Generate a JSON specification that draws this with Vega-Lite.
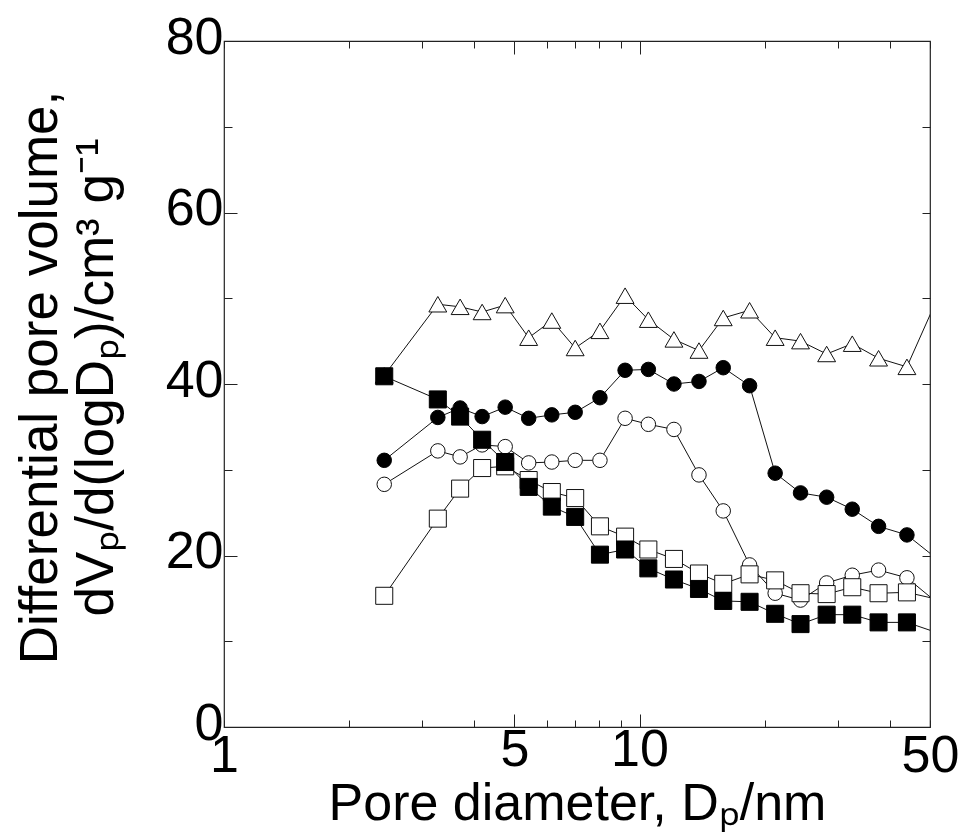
{
  "$schema": "https://vega.github.io/schema/vega-lite/v6.json",
  "autosize": {"type": "none"},
  "padding": {"left": 224, "top": 41, "right": 32, "bottom": 105},
  "width": 706,
  "height": 686,
  "background": "white",
  "config": {
    "view": {"stroke": "#222222", "strokeWidth": 1.2},
    "font": "Liberation Sans",
    "axis": {
      "domain": false,
      "grid": false,
      "tickColor": "#222222",
      "tickWidth": 1,
      "labelFont": "Liberation Sans",
      "labelFontSize": 52,
      "labelColor": "black",
      "labelFlush": false,
      "labelOverlap": false,
      "titleFont": "Liberation Sans",
      "titleFontWeight": "normal",
      "titleColor": "black"
    }
  },
  "datasets": {
    "pores": [
      {"series": "E", "d": 2.43, "v": 41.0}, {"series": "E", "d": 3.27, "v": 49.3}, {"series": "E", "d": 3.70, "v": 49.0}, {"series": "E", "d": 4.18, "v": 48.4}, {"series": "E", "d": 4.75, "v": 49.2}, {"series": "E", "d": 5.41, "v": 45.4}, {"series": "E", "d": 6.15, "v": 47.4}, {"series": "E", "d": 7.00, "v": 44.2}, {"series": "E", "d": 8.03, "v": 46.2}, {"series": "E", "d": 9.23, "v": 50.3}, {"series": "E", "d": 10.5, "v": 47.5}, {"series": "E", "d": 12.1, "v": 45.2}, {"series": "E", "d": 13.9, "v": 43.9}, {"series": "E", "d": 15.9, "v": 47.7}, {"series": "E", "d": 18.4, "v": 48.6}, {"series": "E", "d": 21.2, "v": 45.4}, {"series": "E", "d": 24.4, "v": 45.0}, {"series": "E", "d": 28.2, "v": 43.5}, {"series": "E", "d": 32.5, "v": 44.7}, {"series": "E", "d": 37.6, "v": 43.0}, {"series": "E", "d": 44.0, "v": 42.0}, {"series": "E", "d": 52.0, "v": 49.9},
      {"series": "C", "d": 2.43, "v": 31.1}, {"series": "C", "d": 3.27, "v": 36.1}, {"series": "C", "d": 3.70, "v": 37.2}, {"series": "C", "d": 4.18, "v": 36.2}, {"series": "C", "d": 4.75, "v": 37.3}, {"series": "C", "d": 5.41, "v": 36.0}, {"series": "C", "d": 6.15, "v": 36.4}, {"series": "C", "d": 7.00, "v": 36.7}, {"series": "C", "d": 8.03, "v": 38.4}, {"series": "C", "d": 9.23, "v": 41.6}, {"series": "C", "d": 10.5, "v": 41.7}, {"series": "C", "d": 12.1, "v": 40.0}, {"series": "C", "d": 13.9, "v": 40.3}, {"series": "C", "d": 15.9, "v": 41.9}, {"series": "C", "d": 18.4, "v": 39.8}, {"series": "C", "d": 21.2, "v": 29.6}, {"series": "C", "d": 24.4, "v": 27.3}, {"series": "C", "d": 28.2, "v": 26.8}, {"series": "C", "d": 32.5, "v": 25.4}, {"series": "C", "d": 37.6, "v": 23.4}, {"series": "C", "d": 44.0, "v": 22.4}, {"series": "C", "d": 52.0, "v": 19.6},
      {"series": "D", "d": 2.43, "v": 28.3}, {"series": "D", "d": 3.27, "v": 32.2}, {"series": "D", "d": 3.70, "v": 31.5}, {"series": "D", "d": 4.18, "v": 32.9}, {"series": "D", "d": 4.75, "v": 32.7}, {"series": "D", "d": 5.41, "v": 30.8}, {"series": "D", "d": 6.15, "v": 30.9}, {"series": "D", "d": 7.00, "v": 31.1}, {"series": "D", "d": 8.03, "v": 31.1}, {"series": "D", "d": 9.23, "v": 36.0}, {"series": "D", "d": 10.5, "v": 35.3}, {"series": "D", "d": 12.1, "v": 34.7}, {"series": "D", "d": 13.9, "v": 29.4}, {"series": "D", "d": 15.9, "v": 25.2}, {"series": "D", "d": 18.4, "v": 18.9}, {"series": "D", "d": 21.2, "v": 15.6}, {"series": "D", "d": 24.4, "v": 14.8}, {"series": "D", "d": 28.2, "v": 16.8}, {"series": "D", "d": 32.5, "v": 17.7}, {"series": "D", "d": 37.6, "v": 18.3}, {"series": "D", "d": 44.0, "v": 17.4}, {"series": "D", "d": 52.0, "v": 14.5},
      {"series": "A", "d": 2.43, "v": 40.9}, {"series": "A", "d": 3.27, "v": 38.2}, {"series": "A", "d": 3.70, "v": 36.2}, {"series": "A", "d": 4.18, "v": 33.5}, {"series": "A", "d": 4.75, "v": 30.9}, {"series": "A", "d": 5.41, "v": 28.0}, {"series": "A", "d": 6.15, "v": 25.7}, {"series": "A", "d": 7.00, "v": 24.5}, {"series": "A", "d": 8.03, "v": 20.1}, {"series": "A", "d": 9.23, "v": 20.7}, {"series": "A", "d": 10.5, "v": 18.5}, {"series": "A", "d": 12.1, "v": 17.2}, {"series": "A", "d": 13.9, "v": 16.1}, {"series": "A", "d": 15.9, "v": 14.7}, {"series": "A", "d": 18.4, "v": 14.6}, {"series": "A", "d": 21.2, "v": 13.2}, {"series": "A", "d": 24.4, "v": 12.0}, {"series": "A", "d": 28.2, "v": 13.1}, {"series": "A", "d": 32.5, "v": 13.1}, {"series": "A", "d": 37.6, "v": 12.2}, {"series": "A", "d": 44.0, "v": 12.2}, {"series": "A", "d": 52.0, "v": 11.0},
      {"series": "B", "d": 2.43, "v": 15.3}, {"series": "B", "d": 3.27, "v": 24.3}, {"series": "B", "d": 3.70, "v": 27.8}, {"series": "B", "d": 4.18, "v": 30.2}, {"series": "B", "d": 4.75, "v": 30.4}, {"series": "B", "d": 5.41, "v": 28.8}, {"series": "B", "d": 6.15, "v": 27.4}, {"series": "B", "d": 7.00, "v": 26.7}, {"series": "B", "d": 8.03, "v": 23.4}, {"series": "B", "d": 9.23, "v": 22.2}, {"series": "B", "d": 10.5, "v": 20.7}, {"series": "B", "d": 12.1, "v": 19.6}, {"series": "B", "d": 13.9, "v": 17.9}, {"series": "B", "d": 15.9, "v": 16.7}, {"series": "B", "d": 18.4, "v": 17.8}, {"series": "B", "d": 21.2, "v": 17.1}, {"series": "B", "d": 24.4, "v": 15.6}, {"series": "B", "d": 28.2, "v": 15.5}, {"series": "B", "d": 32.5, "v": 16.3}, {"series": "B", "d": 37.6, "v": 15.6}, {"series": "B", "d": 44.0, "v": 15.7}, {"series": "B", "d": 52.0, "v": 14.9}
    ]
  },
  "data": {"name": "pores"},
  "resolve": {"axis": {"x": "independent", "y": "independent"}},
  "layer": [
    {
      "mark": {"type": "line", "color": "#111111", "strokeWidth": 1, "clip": true},
      "encoding": {
        "x": {
          "field": "d", "type": "quantitative",
          "scale": {"type": "log", "domain": [1, 50], "nice": false},
          "axis": {
            "orient": "bottom",
            "values": [1, 2, 3, 4, 5, 6, 7, 8, 9, 10, 20, 30, 40, 50],
            "tickSize": {"condition": {"test": "datum.value == 5 || datum.value == 10", "value": -13}, "value": -7},
            "labelPadding": 10,
            "labelExpr": "(datum.value == 1 || datum.value == 5 || datum.value == 10 || datum.value == 50) ? format(datum.value, 'd') : ''",
            "title": "Pore diameter, Dₚ/nm",
            "titleFontSize": 52,
            "titleX": 353,
            "titleY": 92,
            "titleBaseline": "alphabetic",
            "titleAlign": "center"
          }
        },
        "y": {
          "field": "v", "type": "quantitative",
          "scale": {"domain": [0, 80], "nice": false},
          "axis": {
            "orient": "left",
            "values": [0, 10, 20, 30, 40, 50, 60, 70, 80],
            "tickSize": {"condition": {"test": "datum.value % 20 == 0", "value": -13}, "value": -8},
            "labelPadding": 14,
            "labelOffset": -4,
            "labelExpr": "datum.value % 20 == 0 ? format(datum.value, 'd') : ''",
            "title": ["Differential pore volume,", "dVₚ/d(logDₚ)/cm³ g⁻¹"],
            "titleFontSize": 53,
            "titleLineHeight": 56,
            "titleAngle": -90,
            "titleX": -184,
            "titleY": 336,
            "titleBaseline": "middle",
            "titleAlign": "center"
          }
        },
        "detail": {"field": "series"}
      }
    },
    {
      "transform": [{"filter": "datum.series == 'E' && datum.d <= 50"}],
      "mark": {"type": "point", "shape": "triangle-up", "size": 320, "filled": true, "fill": "white", "stroke": "#111111", "strokeWidth": 1, "opacity": 1},
      "encoding": {
        "x": {"field": "d", "type": "quantitative", "scale": {"type": "log", "domain": [1, 50], "nice": false},
          "axis": {"orient": "top", "values": [1, 2, 3, 4, 5, 6, 7, 8, 9, 10, 20, 30, 40, 50], "labels": false, "title": null,
            "tickSize": {"condition": {"test": "datum.value == 5 || datum.value == 10", "value": -13}, "value": -7}}},
        "y": {"field": "v", "type": "quantitative", "scale": {"domain": [0, 80], "nice": false},
          "axis": {"orient": "right", "values": [10, 20, 30, 40, 50, 60, 70], "labels": false, "title": null, "tickSize": -8}}
      }
    },
    {
      "transform": [{"filter": "datum.series == 'C' && datum.d <= 50"}],
      "mark": {"type": "point", "shape": "circle", "size": 210, "filled": true, "fill": "black", "stroke": "black", "strokeWidth": 1, "opacity": 1},
      "encoding": {
        "x": {"field": "d", "type": "quantitative", "axis": null},
        "y": {"field": "v", "type": "quantitative", "axis": null}
      }
    },
    {
      "transform": [{"filter": "datum.series == 'D' && datum.d <= 50"}],
      "mark": {"type": "point", "shape": "circle", "size": 210, "filled": true, "fill": "white", "stroke": "#111111", "strokeWidth": 1, "opacity": 1},
      "encoding": {
        "x": {"field": "d", "type": "quantitative", "axis": null},
        "y": {"field": "v", "type": "quantitative", "axis": null}
      }
    },
    {
      "transform": [{"filter": "datum.series == 'B' && datum.d <= 50"}],
      "mark": {"type": "point", "shape": "square", "size": 290, "filled": true, "fill": "white", "stroke": "#111111", "strokeWidth": 1, "opacity": 1},
      "encoding": {
        "x": {"field": "d", "type": "quantitative", "axis": null},
        "y": {"field": "v", "type": "quantitative", "axis": null}
      }
    },
    {
      "transform": [{"filter": "datum.series == 'A' && datum.d <= 50"}],
      "mark": {"type": "point", "shape": "square", "size": 290, "filled": true, "fill": "black", "stroke": "black", "strokeWidth": 1, "opacity": 1},
      "encoding": {
        "x": {"field": "d", "type": "quantitative", "axis": null},
        "y": {"field": "v", "type": "quantitative", "axis": null}
      }
    }
  ]
}
